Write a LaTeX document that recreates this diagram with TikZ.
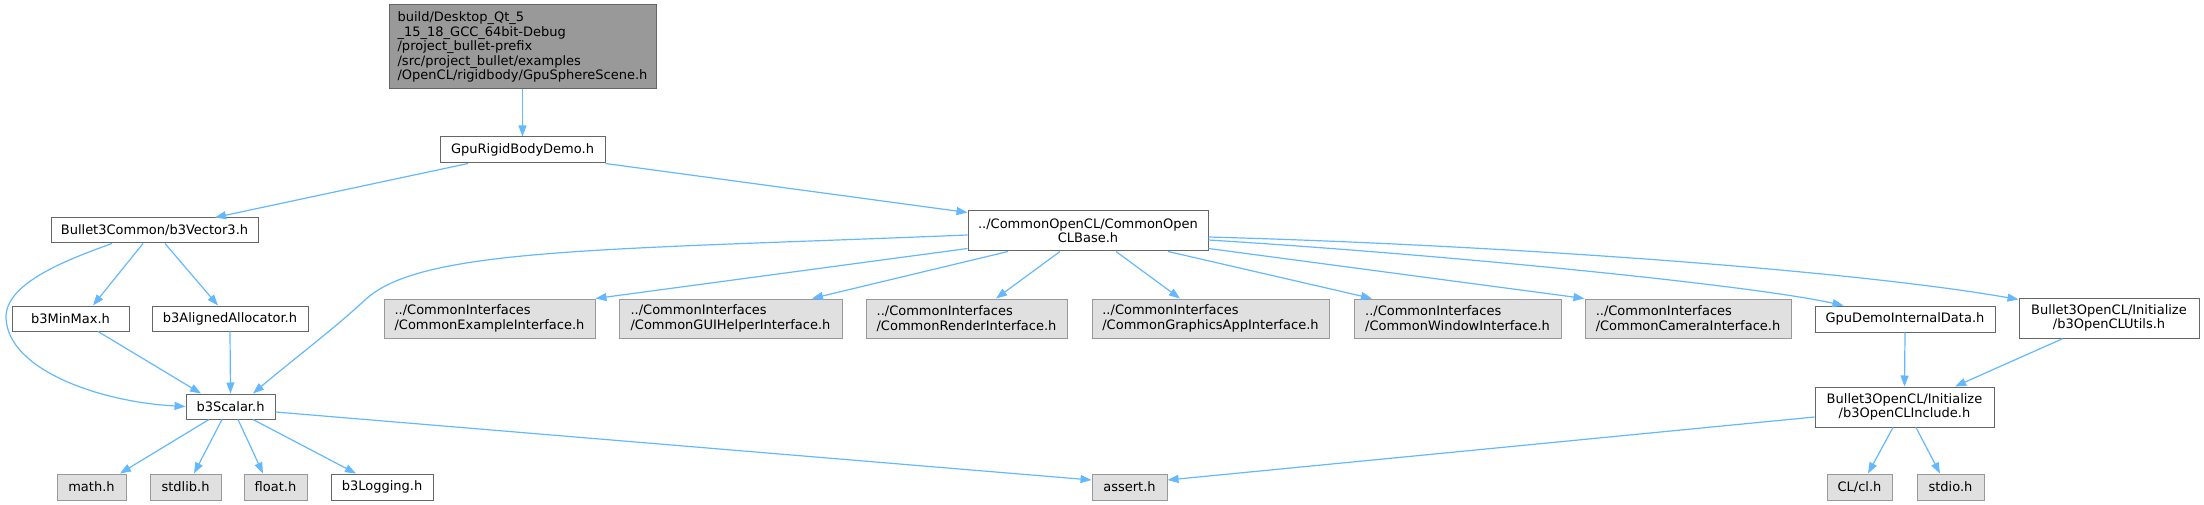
\documentclass[tikz,border=0pt]{standalone}
\usepackage{fontspec}
\setmainfont{DejaVu Sans}
\usetikzlibrary{arrows.meta}
\definecolor{edgec}{HTML}{63B8FF}
\definecolor{wborder}{HTML}{666666}
\definecolor{gborder}{HTML}{999999}
\definecolor{gfill}{HTML}{E0E0E0}
\definecolor{topfill}{HTML}{999999}
\begin{document}
\begin{tikzpicture}[x=1pt,y=-1pt,
  box/.style={draw=wborder,fill=white,line width=1pt,inner sep=0pt,
    font=\fontsize{13}{14.5}\selectfont,align=center,anchor=center},
  ext/.style={box,draw=gborder,fill=gfill},
  topbox/.style={box,draw=wborder,fill=topfill},
  dep/.style={draw=edgec,line width=1.2pt,-{Triangle[length=11pt,width=8pt]}}]
\useasboundingbox (0,0) rectangle (2204,505);

% nodes
\node[topbox,align=left,minimum width=267pt,minimum height=84pt] (top) at (522.5,47)
  {build/Desktop\_Qt\_5\\\_15\_18\_GCC\_64bit-Debug\\/project\_bullet-prefix\\/src/project\_bullet/examples\\/OpenCL/rigidbody/GpuSphereScene.h};
\node[box,minimum width=165pt,minimum height=26pt] (gpurbd) at (522.5,150) {GpuRigidBodyDemo.h};
\node[box,minimum width=207pt,minimum height=25pt] (vec3) at (154.5,230.5) {Bullet3Common/b3Vector3.h};
\node[box,minimum width=240pt,minimum height=40pt] (clbase) at (1088,231) {../CommonOpenCL/CommonOpen\\CLBase.h};
\node[box,minimum width=117pt,minimum height=25pt] (minmax) at (70.5,318.5) {b3MinMax.h};
\node[box,minimum width=156pt,minimum height=25pt] (alloc) at (230,318.5) {b3AlignedAllocator.h};
\node[ext,align=left,minimum width=211pt,minimum height=39pt] (example) at (489.5,318.5) {../CommonInterfaces\\/CommonExampleInterface.h};
\node[ext,align=left,minimum width=223pt,minimum height=39pt] (gui) at (730.5,318.5) {../CommonInterfaces\\/CommonGUIHelperInterface.h};
\node[ext,align=left,minimum width=201pt,minimum height=39pt] (render) at (966.5,318.5) {../CommonInterfaces\\/CommonRenderInterface.h};
\node[ext,align=left,minimum width=237pt,minimum height=39pt] (graphics) at (1210.5,318.5) {../CommonInterfaces\\/CommonGraphicsAppInterface.h};
\node[ext,align=left,minimum width=207pt,minimum height=39pt] (window) at (1457.5,318.5) {../CommonInterfaces\\/CommonWindowInterface.h};
\node[ext,align=left,minimum width=206pt,minimum height=39pt] (camera) at (1688,318.5) {../CommonInterfaces\\/CommonCameraInterface.h};
\node[box,minimum width=180pt,minimum height=26pt] (gpudid) at (1905,319) {GpuDemoInternalData.h};
\node[box,minimum width=180pt,minimum height=40pt] (utils) at (2109,318) {Bullet3OpenCL/Initialize\\/b3OpenCLUtils.h};
\node[box,minimum width=89pt,minimum height=25pt] (scalar) at (230.5,406.5) {b3Scalar.h};
\node[box,minimum width=179pt,minimum height=40pt] (include) at (1904.5,407) {Bullet3OpenCL/Initialize\\/b3OpenCLInclude.h};
\node[ext,minimum width=69pt,minimum height=26pt] (math) at (91.5,487) {math.h};
\node[ext,minimum width=71pt,minimum height=26pt] (stdlib) at (185.5,487) {stdlib.h};
\node[ext,minimum width=63pt,minimum height=26pt] (float) at (275.5,487) {float.h};
\node[box,minimum width=102pt,minimum height=26pt] (logging) at (382,487) {b3Logging.h};
\node[ext,minimum width=75pt,minimum height=26pt] (assert) at (1129.5,487) {assert.h};
\node[ext,minimum width=65pt,minimum height=26pt] (clh) at (1859.5,487) {CL/cl.h};
\node[ext,minimum width=67pt,minimum height=26pt] (stdio) at (1950.5,487) {stdio.h};

% edges
\draw[dep] (top.south) -- (gpurbd.north);
\draw[dep] ([xshift=-54.5pt]gpurbd.south) -- ([xshift=60.5pt]vec3.north);
\draw[dep] (gpurbd.south east) -- ([yshift=-2pt]clbase.north west);
\draw[dep] ([xshift=-42.5pt]vec3.south) .. controls (60,262) and (5,285) .. (6,318)
  .. controls (8,370) and (100,402) .. (scalar.west);
\draw[dep] ([xshift=-11.5pt]vec3.south) -- ([xshift=22.5pt]minmax.north);
\draw[dep] ([xshift=10.5pt]vec3.south) -- ([xshift=-12pt]alloc.north);
\draw[dep] ([xshift=27.5pt]minmax.south) -- ([xshift=-29.5pt]scalar.north);
\draw[dep] (alloc.south) -- (scalar.north);
\draw[dep] ([yshift=-4pt]clbase.west) .. controls (600,250) and (420,248) .. (365,300)
  .. controls (335,328) and (290,362) .. ([xshift=22.5pt]scalar.north);
\draw[dep] ([yshift=3pt]clbase.south west) -- (example.north east);
\draw[dep] ([xshift=-80pt]clbase.south) -- ([xshift=81.5pt]gui.north);
\draw[dep] ([xshift=-28pt]clbase.south) -- ([xshift=29.5pt]render.north);
\draw[dep] ([xshift=28pt]clbase.south) -- ([xshift=-30.5pt]graphics.north);
\draw[dep] ([xshift=80pt]clbase.south) -- ([xshift=-85.5pt]window.north);
\draw[dep] ([yshift=3pt]clbase.south east) -- (camera.north west);
\draw[dep] ([yshift=-9pt]clbase.east) .. controls (1450,255) and (1750,285) .. ([xshift=29pt]gpudid.north west);
\draw[dep] ([yshift=-6pt]clbase.east) .. controls (1500,245) and (1850,270) .. ([yshift=-2pt]utils.north west);
\draw[dep] (gpudid.south) -- (include.north);
\draw[dep] ([xshift=-46pt]utils.south) -- ([xshift=50.5pt]include.north);
\draw[dep] ([yshift=-10pt]include.west) -- ([yshift=7pt]assert.east);
\draw[dep] ([xshift=-11.5pt]include.south) -- ([xshift=8.5pt]clh.north);
\draw[dep] ([xshift=11.5pt]include.south) -- ([xshift=-10.5pt]stdio.north);
\draw[dep] ([xshift=-21.5pt]scalar.south) -- ([xshift=28.5pt]math.north);
\draw[dep] ([xshift=-8.5pt]scalar.south) -- ([xshift=8.5pt]stdlib.north);
\draw[dep] ([xshift=7.5pt]scalar.south) -- ([xshift=-12.5pt]float.north);
\draw[dep] ([xshift=22.5pt]scalar.south) -- ([xshift=-26pt]logging.north);
\draw[dep] ([yshift=-5.5pt]scalar.east) -- ([yshift=7pt]assert.west);
\end{tikzpicture}
\end{document}
